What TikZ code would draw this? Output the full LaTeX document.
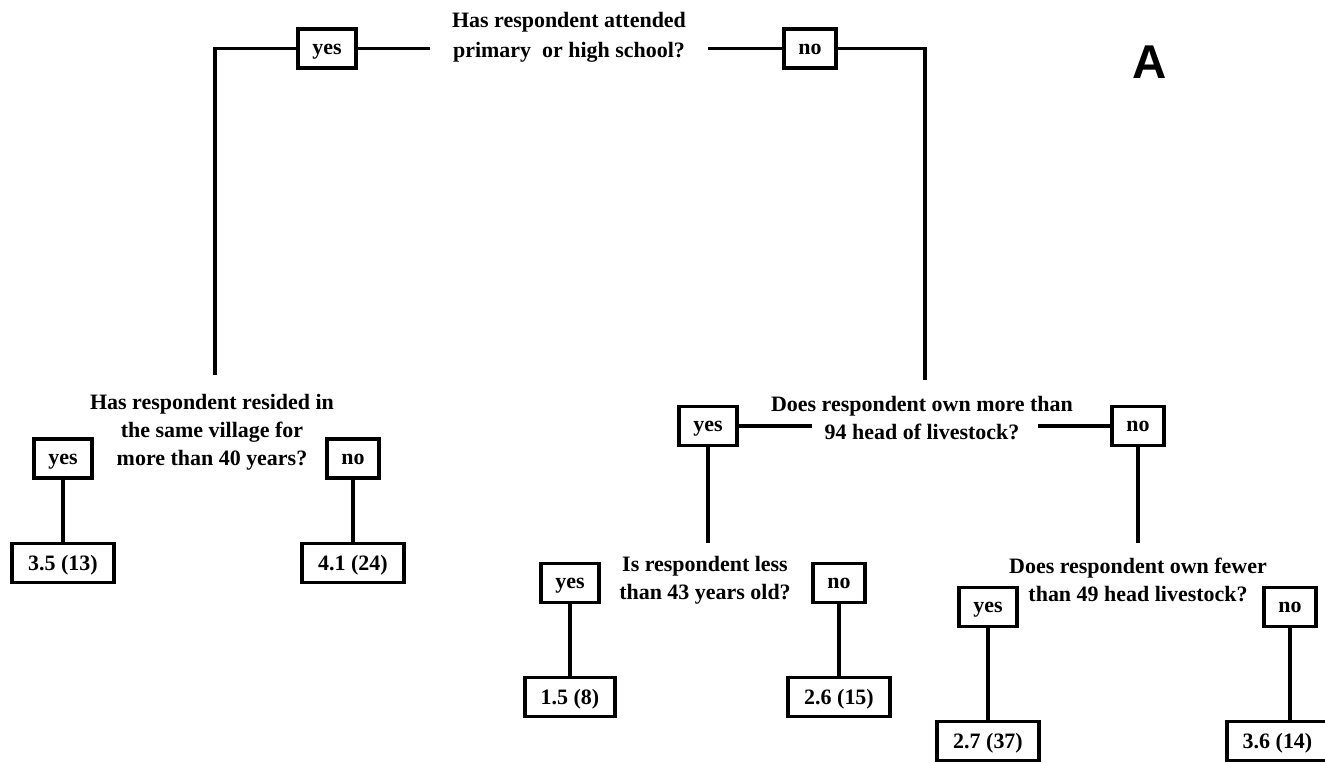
\documentclass[tikz,border=0pt]{standalone}
\usepackage{fontspec}
\setmainfont{Liberation Serif}
\newfontfamily\panelfont{Liberation Sans}
\usetikzlibrary{positioning}

\begin{document}
\begin{tikzpicture}[
    line width=2.2pt,
    every node/.style={font=\bfseries\fontsize{12.5}{16}\selectfont},
    question/.style={align=center, inner sep=0pt},
    answer/.style={draw, line width=2.2pt, inner xsep=0.29cm, minimum height=0.78cm,
        text height=8.5pt, text depth=2pt},
    leaf/.style={answer, inner xsep=0.32cm, text height=10pt, text depth=2pt}
]
    \useasboundingbox (0,0) rectangle (26.5,15.24);

    % Panel letter
    \node[font=\panelfont\bfseries\fontsize{27}{30}\selectfont] (panel) at (23.0, 14.0) {A};

    % Root split: schooling
    \node[question] (school) at (11.38, 14.5) {Has respondent attended\\[1pt]primary~ or high school?};
    \node[answer] (yesA) at (6.54, 14.27) {yes};
    \node[answer] (noA) at (16.2, 14.27) {no};
    \coordinate (schoolL) at (8.6, 14.27);
    \coordinate (schoolR) at (14.16, 14.27);
    \coordinate (leftEnd) at (4.3, 7.74);
    \coordinate (rightEnd) at (18.5, 7.64);
    \draw (leftEnd) |- (yesA.west);
    \draw (yesA.east) -- (schoolL);
    \draw (schoolR) -- (noA.west);
    \draw (noA.east) -| (rightEnd);

    % Left branch: years in village
    \begin{scope}
        \node[question] (village) at (4.24, 6.6) {Has respondent resided in\\the same village for\\more than 40 years?};
        \node[answer] (yesB) at (1.26, 6.07) {yes};
        \node[answer] (noB) at (7.06, 6.07) {no};
        \node[leaf] (leafB1) at (1.26, 3.98) {3.5 (13)};
        \node[leaf] (leafB2) at (7.06, 3.98) {4.1 (24)};
        \draw (yesB) -- (leafB1);
        \draw (noB) -- (leafB2);
    \end{scope}

    % Right branch: herd size
    \begin{scope}
        \node[question] (herd) at (18.44, 6.88) {Does respondent own more than\\94 head of livestock?};
        \node[answer] (yesC) at (14.16, 6.72) {yes};
        \node[answer] (noC) at (22.76, 6.72) {no};
        \coordinate (herdL) at (16.24, 6.72);
        \coordinate (herdR) at (20.76, 6.72);
        \coordinate (ageTop) at (14.16, 4.38);
        \coordinate (fewTop) at (22.76, 4.38);
        \draw (yesC.east) -- (herdL);
        \draw (herdR) -- (noC.west);
        \draw (yesC.south) -- (ageTop);
        \draw (noC.south) -- (fewTop);
    \end{scope}

    % Age split
    \begin{scope}
        \node[question] (age) at (14.1, 3.64) {Is respondent less\\than 43 years old?};
        \node[answer] (yesD) at (11.40, 3.58) {yes};
        \node[answer] (noD) at (16.78, 3.58) {no};
        \node[leaf] (leafD1) at (11.40, 1.3) {1.5 (8)};
        \node[leaf] (leafD2) at (16.78, 1.3) {2.6 (15)};
        \draw (yesD) -- (leafD1);
        \draw (noD) -- (leafD2);
    \end{scope}

    % Fewer livestock split
    \begin{scope}
        \node[question] (fewer) at (22.76, 3.64) {Does respondent own fewer\\than 49 head livestock?};
        \node[answer] (yesE) at (19.76, 3.1) {yes};
        \node[answer] (noE) at (25.8, 3.1) {no};
        \node[leaf] (leafE1) at (19.76, 0.42) {2.7 (37)};
        \node[leaf] (leafE2) at (25.55, 0.42) {3.6 (14)};
        \draw (yesE) -- (leafE1);
        \draw (noE.south) -- (noE.south |- leafE2.north);
    \end{scope}
\end{tikzpicture}
\end{document}
